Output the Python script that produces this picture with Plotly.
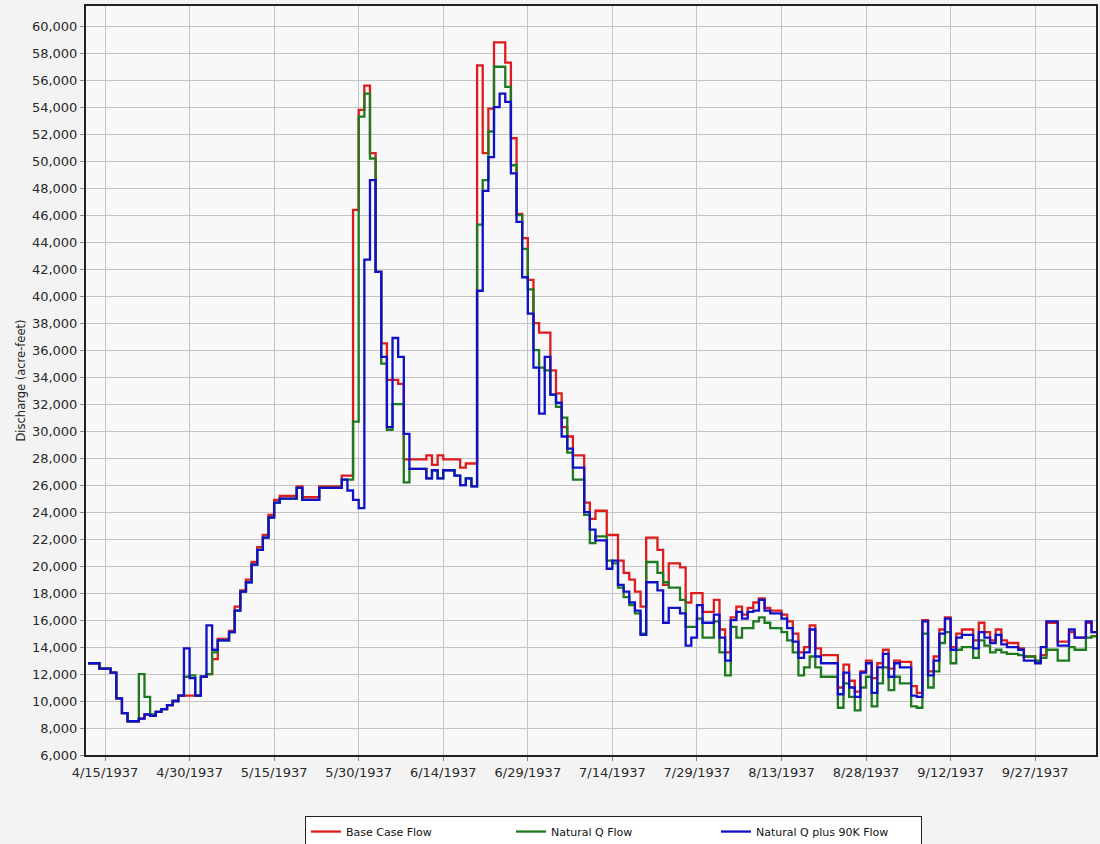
import plotly.graph_objects as go
import pandas as pd

# ---------------- data (daily values, acre-feet) ----------------
start_date = "1937-04-12"

base_case_flow = [
    12800, 12800, 12400, 12400, 12100, 10200, 9100, 8500, 8500, 8700,
    9000, 8900, 9200, 9400, 9700, 10000, 10400, 10400, 10400, 10400,
    11800, 12000, 13100, 14600, 14600, 15200, 17000, 18200, 19000, 20300,
    21400, 22300, 23800, 24900, 25200, 25200, 25200, 25900, 25100, 25100,
    25100, 25900, 25900, 25900, 25900, 26700, 26700, 46400, 53800, 55600,
    50600, 41800, 36500, 33800, 33800, 33500, 27900, 27900, 27900, 27900,
    28200, 27500, 28200, 27900, 27900, 27900, 27300, 27600, 27600, 57100,
    50600, 53900, 58800, 58800, 57300, 51700, 46100, 44300, 41200, 38000,
    37300, 37300, 34500, 32800, 30300, 29600, 28200, 28200, 24700, 23500,
    24100, 24100, 22300, 22300, 20400, 19500, 19000, 18100, 17000, 22100,
    22100, 21200, 18600, 20200, 20200, 19900, 17300, 18000, 18000, 16600,
    16600, 17500, 15300, 13600, 16200, 17000, 16400, 16900, 17300, 17600,
    16900, 16700, 16700, 16400, 15900, 15000, 13600, 14000, 15600, 13900,
    13400, 13400, 13400, 11000, 12700, 11500, 10700, 12200, 13000, 11700,
    12800, 13800, 12400, 13000, 12900, 12900, 11100, 10600, 16000, 12200,
    13300, 15300, 16200, 14000, 15000, 15300, 15300, 14500, 15800, 15100,
    14500, 15300, 14500, 14300, 14300, 13900, 13300, 13300, 12900, 13400,
    15800, 15800, 14400, 14400, 15100, 14700, 14700, 15800, 15100,
]

natural_q_flow = [
    12800, 12800, 12400, 12400, 12100, 10200, 9100, 8500, 8500, 12000,
    10300, 9000, 9200, 9400, 9700, 10000, 10400, 11800, 11900, 10400,
    11800, 12000, 13600, 14500, 14500, 15100, 16700, 18100, 18800, 20100,
    21200, 22100, 23600, 24700, 25000, 25000, 25000, 25800, 24900, 24900,
    24900, 25800, 25800, 25800, 25800, 26400, 26400, 30700, 53300, 55000,
    50200, 41800, 35000, 30100, 32000, 32000, 26200, 27200, 27200, 27200,
    26500, 27100, 26500, 27100, 27100, 26700, 26000, 26500, 25900, 45300,
    48600, 52200, 57000, 57000, 55500, 49700, 46000, 43500, 40500, 36000,
    34700, 34500, 32700, 31800, 31000, 28400, 26400, 26400, 23800, 21700,
    22200, 22200, 20400, 20200, 18400, 17700, 17100, 16500, 15000, 20300,
    20300, 19500, 18800, 18400, 18400, 17500, 15500, 15500, 16100, 14700,
    14700, 15900, 13600, 11900, 15500, 14700, 15400, 15400, 15900, 16200,
    15800, 15400, 15400, 15100, 14500, 13600, 11900, 12500, 13300, 12500,
    11800, 11800, 11800, 9500, 11300, 10300, 9300, 11000, 11800, 9600,
    11300, 12500, 10800, 11800, 11300, 11300, 9600, 9500, 15000, 11000,
    12200, 14300, 15100, 12800, 13800, 14000, 14000, 13200, 14500, 14100,
    13600, 13800, 13600, 13500, 13500, 13400, 13300, 13300, 13000, 13200,
    13800, 13800, 13000, 13000, 14000, 13800, 13800, 14700, 14800,
]

natural_q_plus_90k_flow = [
    12800, 12800, 12400, 12400, 12100, 10200, 9100, 8500, 8500, 8700,
    9000, 8900, 9200, 9400, 9700, 10000, 10400, 13900, 11700, 10400,
    11800, 15600, 13800, 14500, 14500, 15100, 16700, 18100, 18800, 20100,
    21200, 22100, 23600, 24700, 25000, 25000, 25000, 25800, 24900, 24900,
    24900, 25800, 25800, 25800, 25800, 26400, 25600, 24900, 24300, 42700,
    48600, 41800, 35500, 30300, 36900, 35500, 29800, 27200, 27200, 27200,
    26500, 27100, 26500, 27100, 27100, 26700, 26000, 26500, 25900, 40400,
    47800, 50300, 54000, 55000, 54400, 49100, 45500, 41400, 38700, 34700,
    31300, 35500, 32700, 32100, 29600, 28700, 27300, 27300, 24000, 22700,
    21900, 21900, 19800, 20400, 18600, 18100, 17300, 16700, 14900, 18800,
    18800, 18200, 15800, 16900, 16900, 16500, 14100, 14700, 17100, 15800,
    15800, 16400, 14700, 13000, 16000, 16600, 16100, 16600, 16700, 17500,
    16700, 16500, 16500, 16100, 15400, 14400, 13200, 13600, 15300, 13300,
    12800, 12800, 12800, 10500, 12100, 11000, 10300, 12100, 12800, 10600,
    12500, 13500, 11800, 12800, 12500, 12500, 10400, 10300, 15900, 11900,
    13000, 15000, 16100, 13800, 14700, 14900, 14900, 13900, 15100, 14700,
    14300, 14900, 14200, 14000, 14000, 13800, 13000, 13000, 12800, 14000,
    15900, 15900, 14100, 14100, 15300, 14700, 14700, 15900, 15100,
]

series_names = ["Base Case Flow", "Natural Q Flow", "Natural Q plus 90K Flow"]
series_colors = ["#dd1c1c", "#1f7a1f", "#1010c8"]

x_tick0 = "1937-04-15"
x_range = ["1937-04-11 15:00", "1937-10-07 19:00"]
y_range = [6000, 61500]

# ---------------- figure ----------------
def step_xy(values):
    n = len(values)
    d = pd.date_range(start_date, periods=n + 1, freq="D")
    return list(d), list(values) + [values[-1]]

fig = go.Figure()
for name, vals, col in zip(series_names,
                           [base_case_flow, natural_q_flow, natural_q_plus_90k_flow],
                           series_colors):
    xs, ys = step_xy(vals)
    fig.add_trace(go.Scatter(x=xs, y=ys, mode="lines", name=name,
                             line=dict(color=col, width=2.3, shape="hv")))

axis_font = dict(family="DejaVu Sans", size=13, color="#2a2a2a")

fig.update_layout(
    width=1100, height=844,
    margin=dict(l=86, r=4, t=6, b=89, autoexpand=False),
    paper_bgcolor="#f3f3f3",
    plot_bgcolor="#f8f8f8",
    font=dict(family="DejaVu Sans", size=12, color="#222"),
    showlegend=True,
    legend=dict(
        orientation="h",
        x=0.2168, xanchor="left",
        y=-0.0815, yanchor="top",
        bgcolor="#ffffff",
        bordercolor="#222222", borderwidth=1,
        font=dict(family="DejaVu Sans", size=11, color="#111"),
        entrywidth=160, entrywidthmode="pixels",
        itemwidth=30,
        tracegroupgap=0,
    ),
)

fig.update_xaxes(
    type="date",
    range=x_range,
    tick0=x_tick0,
    dtick=15 * 86400000,
    tickformat="%-m/%-d/%Y",
    tickfont=axis_font,
    showgrid=True, gridcolor="#c4c4c4", gridwidth=1,
    showline=True, linecolor="#222", linewidth=2, mirror=True,
    ticks="outside", ticklen=4, tickcolor="#888",
    zeroline=False, automargin=False,
)
fig.update_yaxes(
    range=y_range,
    tick0=6000, dtick=2000,
    tickformat=",d",
    tickfont=axis_font,
    showgrid=True, gridcolor="#c4c4c4", gridwidth=1,
    showline=True, linecolor="#222", linewidth=2, mirror=True,
    ticks="outside", ticklen=4, tickcolor="#888",
    zeroline=False, automargin=False,
    title=dict(text="Discharge (acre-feet)",
               font=dict(family="DejaVu Sans", size=11.5, color="#222"),
               standoff=4),
)

fig.write_html(
    "out.html",
    config={"displayModeBar": False},
    post_script="document.body.style.margin='0';document.body.style.padding='0';",
)
